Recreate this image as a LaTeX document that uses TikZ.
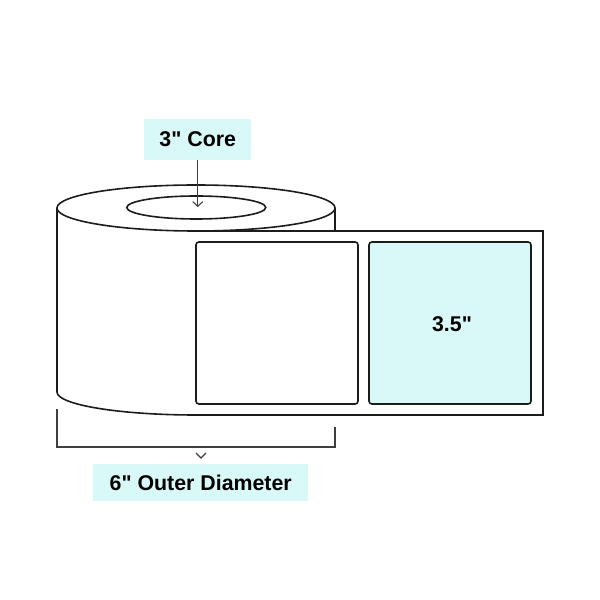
\documentclass[tikz,border=0pt]{standalone}
\usepackage{fontspec}
\newfontfamily\tagfont{Liberation Sans}
\usetikzlibrary{arrows.meta}
\definecolor{labelcyan}{HTML}{D9F8F8}
\definecolor{rollline}{HTML}{1C1C1C}
\tikzset{
  rollstroke/.style={draw=rollline,line width=1.2pt},
  thinstroke/.style={draw=rollline!85,line width=0.8pt},
  sticker/.style={rollstroke,rounded corners=2.2pt,inner sep=0pt,minimum width=121.5pt,minimum height=121.5pt},
  tagtext/.style={font=\tagfont\bfseries\fontsize{16}{18}\selectfont},
  tag/.style={tagtext,fill=labelcyan,inner sep=0pt},
}
\begin{document}
\begin{tikzpicture}[x=0.75pt,y=0.75pt]
  \useasboundingbox (0,0) rectangle (600,600);

  \draw[rollstroke] (57,392) -- (57,208) arc[start angle=180,end angle=270,x radius=139,y radius=23] -- (543,185) -- (543,369) -- (196,369);
  \draw[rollstroke] (335,392) -- (335,369);
  \draw[rollstroke] (196,392) ellipse [x radius=139,y radius=23];
  \draw[rollstroke] (196.25,392.5) ellipse [x radius=69.5,y radius=11.5];

  \node[sticker] (blank) at (277,277) {};
  \node[sticker,fill=labelcyan] (filled) at (450,277) {};
  \node[tagtext] (size) at (452,275.5) {3.5"};

  \node[tag,minimum width=80.6pt,minimum height=30.7pt] (corelabel) at (197.75,460.5) {3" Core};
  \node[tag,minimum width=161pt,minimum height=27.7pt] (outerlabel) at (200.75,117.5) {6" Outer Diameter};

  \coordinate (corepoint) at (197.75,393);
  \draw[thinstroke,-{Straight Barb[length=3.5pt,width=7.5pt]}] (corelabel) -- (corepoint);

  \draw[thinstroke] (57,191) -- (57,153) -- (335,153) -- (335,173);
  \draw[thinstroke] (196,147) -- (201,142) -- (206,147);
\end{tikzpicture}
\end{document}
